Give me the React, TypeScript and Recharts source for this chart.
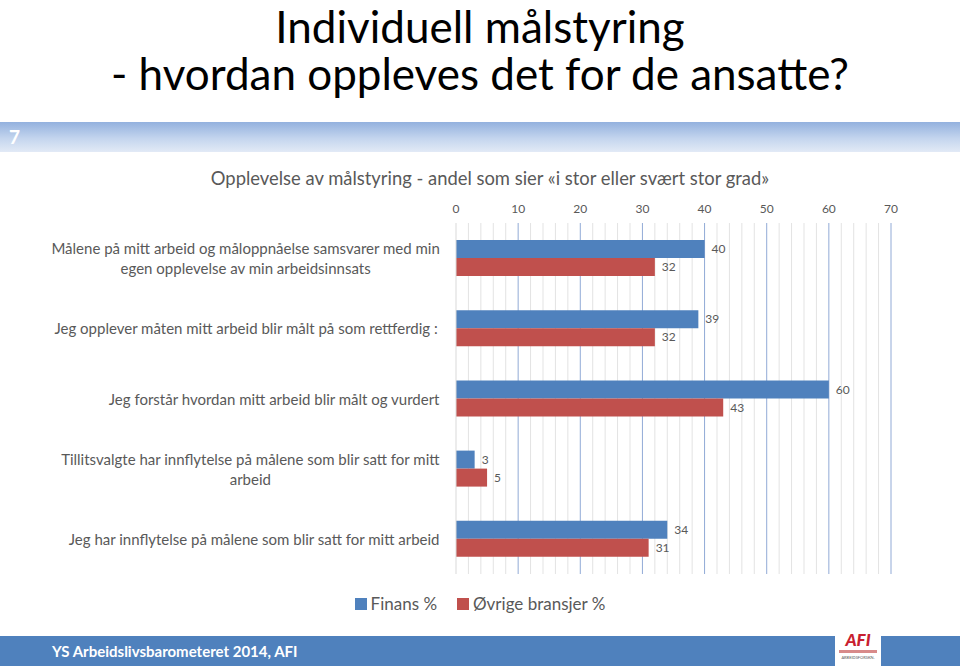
import React from 'react';
import { BarChart, Bar, XAxis, YAxis, CartesianGrid, LabelList, Legend } from 'recharts';

const categories = [
  'Målene på mitt arbeid og måloppnåelse samsvarer med min\negen opplevelse av min arbeidsinnsats',
  'Jeg opplever måten mitt arbeid blir målt på som rettferdig  :',
  'Jeg forstår hvordan mitt arbeid blir målt og vurdert',
  'Tillitsvalgte har innflytelse på målene som blir satt for mitt\narbeid',
  'Jeg har innflytelse på målene som blir satt for mitt arbeid',
];
const finans = [40, 39, 60, 3, 34];
const ovrige = [32, 32, 43, 5, 31];
const axisTicks = [0, 10, 20, 30, 40, 50, 60, 70];
const minorTicks = [2, 4, 6, 8, 12, 14, 16, 18, 22, 24, 26, 28, 32, 34, 36, 38, 42, 44, 46, 48, 52, 54, 56, 58, 62, 64, 66, 68];

const data = categories.map((category, i) => ({ category, finans: finans[i], ovrige: ovrige[i] }));

const FONT = 'Lato, "Open Sans", sans-serif';
const GREY = '#595959';
const BLUE = '#4f81bd';
const RED = '#c0504d';
const X_MAX = 70;
const LEGEND_H = 20;

let ctx: CanvasRenderingContext2D | null = null;
const textWidth = (s: string, font: string) => {
  if (!ctx) ctx = document.createElement('canvas').getContext('2d');
  if (!ctx) return s.length * 7;
  ctx.font = font;
  return ctx.measureText(s).width;
};

// right-aligned block, lines centred on each other (like Excel wraps them)
const CategoryTick = (props: any) => {
  const { x, y, payload } = props;
  const lines: string[] = String(payload.value).split('\n');
  const size = 15;
  const lh = 20;
  const w = Math.max(...lines.map(l => textWidth(l, `${size}px Lato`)));
  const cx = x - 8 - w / 2;
  const y0 = y - ((lines.length - 1) * lh) / 2;
  return (
    <text fill={GREY} fontSize={size} fontFamily={FONT} textAnchor="middle" dominantBaseline="central">
      {lines.map((l, i) => (
        <tspan key={i} x={cx} y={y0 + i * lh}>{l}</tspan>
      ))}
    </text>
  );
};

const gridAt = (ticks: number[]) => ({ xAxis, offset }: any) =>
  ticks.map(t => {
    const s = xAxis && xAxis.scale;
    if (typeof s === 'function') return s(t);
    if (s && typeof s.map === 'function') return s.map(t);
    return offset.left + (offset.width * t) / X_MAX;
  });

const LegendBox = ({ payload }: any) => (
  <div style={{ display: 'flex', justifyContent: 'center', gap: 20, height: LEGEND_H, fontFamily: FONT, fontSize: 17, lineHeight: `${LEGEND_H}px`, color: GREY }}>
    {(payload || []).map((p: any) => (
      <span key={p.value} style={{ display: 'flex', alignItems: 'center' }}>
        <span style={{ width: 12, height: 12, background: p.color, marginRight: 4, display: 'inline-block' }} />
        {p.value}
      </span>
    ))}
  </div>
);

export default function App() {
  return (
    <div style={{ position: 'absolute', left: 0, top: 0, width: 960, height: 671, background: '#fff', overflow: 'hidden', fontFamily: FONT }}>
      <div style={{ position: 'absolute', top: 3, left: 0, width: 960, textAlign: 'center', fontSize: 44, lineHeight: '47px', color: '#000', whiteSpace: 'nowrap' }}>
        Individuell målstyring
        <br />- hvordan oppleves det for de ansatte?
      </div>
      <div
        style={{
          position: 'absolute', top: 122, left: 0, width: 960, height: 30,
          background: 'linear-gradient(#93b1de, #c4d5ee 55%, #e2eaf6)',
          color: '#fff', fontWeight: 700, fontSize: 19, lineHeight: '30px', paddingLeft: 9, boxSizing: 'border-box',
        }}
      >
        7
      </div>
      <div style={{ position: 'absolute', top: 167, left: 0, width: 980, textAlign: 'center', fontSize: 18.4, color: GREY }}>
        Opplevelse av målstyring - andel som sier «i stor eller svært stor grad»
      </div>
      <div style={{ position: 'absolute', top: 0, left: 0 }}>
        <BarChart
          layout="vertical"
          width={960}
          height={671}
          data={data}
          barGap={0}
          margin={{ top: 193, right: 69, bottom: 97 - LEGEND_H, left: 0 }}
        >
          <CartesianGrid horizontal={false} stroke="#e3e3e3" verticalCoordinatesGenerator={gridAt(minorTicks)} />
          <CartesianGrid horizontal={false} stroke="#91aad6" verticalCoordinatesGenerator={gridAt(axisTicks.slice(1))} />
          <XAxis
            type="number"
            orientation="top"
            domain={[0, X_MAX]}
            ticks={axisTicks}
            height={30}
            axisLine={false}
            tickLine={false}
            tickMargin={4}
            tick={{ fill: GREY, fontSize: 12, fontFamily: FONT }}
          />
          <YAxis
            type="category"
            dataKey="category"
            width={456}
            axisLine={{ stroke: '#d9d9d9' }}
            tickLine={false}
            tick={<CategoryTick />}
            interval={0}
          />
          <Legend
            content={<LegendBox />}
            wrapperStyle={{ position: 'absolute', top: 594, left: 0, width: 960, bottom: 'auto' }}
          />
          <Bar dataKey="finans" name="Finans %" fill={BLUE} barSize={18} isAnimationActive={false}>
            <LabelList dataKey="finans" position="right" offset={7} fill={GREY} fontSize={12} fontFamily={FONT} />
          </Bar>
          <Bar dataKey="ovrige" name="Øvrige bransjer %" fill={RED} barSize={18} isAnimationActive={false}>
            <LabelList dataKey="ovrige" position="right" offset={7} fill={GREY} fontSize={12} fontFamily={FONT} />
          </Bar>
        </BarChart>
      </div>
      <div
        style={{
          position: 'absolute', top: 636, left: 0, width: 960, height: 30, background: BLUE,
          color: '#fff', fontWeight: 700, fontSize: 15, lineHeight: '30px', paddingLeft: 52, boxSizing: 'border-box',
        }}
      >
        YS Arbeidslivsbarometeret 2014, AFI
      </div>
      <div style={{ position: 'absolute', top: 628, left: 835, width: 46, height: 43, background: '#fff', overflow: 'hidden', textAlign: 'center' }}>
        <div style={{ color: '#c8202f', fontWeight: 900, fontStyle: 'italic', fontSize: 17, lineHeight: '18px', marginTop: 3 }}>AFI</div>
        <div style={{ height: 3, margin: '1px 4px', background: '#d88a8a' }} />
        <div style={{ fontSize: 5, color: '#555', lineHeight: '6px', whiteSpace: 'nowrap', transform: 'scale(0.8)' }}>ARBEIDSFORSKN.</div>
      </div>
    </div>
  );
}
